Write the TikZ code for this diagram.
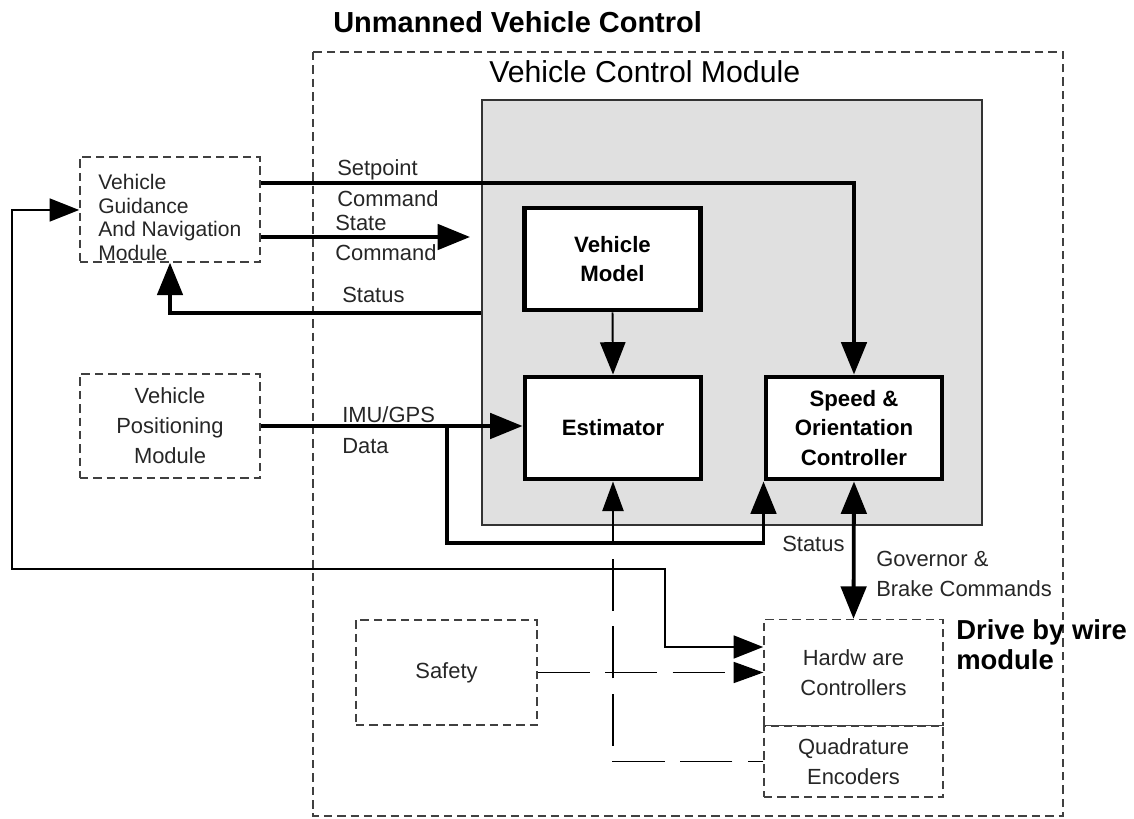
\documentclass[tikz,border=0pt]{standalone}
\usepackage{fontspec}
\setmainfont{Liberation Sans}
\usetikzlibrary{arrows.meta}
\begin{document}
\begin{tikzpicture}[x=0.025cm,y=-0.025cm,>={Triangle[length=23pt,width=18pt]}]
\tikzstyle{every node}+=[inner sep=0pt,text=black!85]
\tikzstyle{lbl}=[font=\fontsize{15.6}{21.8}\selectfont,align=left,anchor=west]
\tikzstyle{dbox}=[draw=black!75,line width=1pt,dash pattern=on 6pt off 3.5pt,align=center,font=\fontsize{15.6}{21.3}\selectfont]
\tikzstyle{bbox}=[draw=black,fill=white,line width=3.5pt,align=center,text=black,font=\bfseries\fontsize{15.8}{21}\selectfont,minimum width=4.4cm,minimum height=2.55cm]
\tikzstyle{thk}=[line width=2.7pt,->]
\tikzstyle{thn}=[line width=1.4pt,->]
\tikzstyle{fbk}=[line width=2.1pt,>={Triangle[length=21pt,width=16pt]}]
\tikzstyle{lng}=[dash pattern=on 37pt off 11pt,>={Triangle[length=21pt,width=15pt]}]
\useasboundingbox (0,0) rectangle (1134,819);
\draw [black!75,line width=1pt,dash pattern=on 6pt off 3.5pt] (313,52) rectangle (1063,816);
\node (ttl) [anchor=west,text=black,font=\bfseries\fontsize{20.6}{24}\selectfont] at (333,22) {Unmanned Vehicle Control};
\node (vcmt) [anchor=west,text=black,font=\fontsize{21.5}{26}\selectfont] at (489,72) {Vehicle Control Module};
\node (vcm) [draw=black!80,fill=black!12,line width=1.4pt,minimum width=12.5cm,minimum height=10.625cm] at (732,312.5) {};
\node (guid) [dbox,minimum width=4.5cm,minimum height=2.625cm] at (170,209.5) {};
\node (guidt) [anchor=west,align=left,font=\fontsize{15}{17}\selectfont] at (98,217.5) {Vehicle\\Guidance\\And Navigation\\Module};
\node (pos) [dbox,minimum width=4.5cm,minimum height=2.6cm] at (170,426) {Vehicle\\Positioning\\Module};
\node (saf) [dbox,minimum width=4.525cm,minimum height=2.625cm] at (446.5,672.5) {Safety};
\node (hw) [dbox,minimum width=4.475cm,minimum height=2.65cm] at (853.5,672.5) {Hardw are\\Controllers};
\node (enc) [dbox,minimum width=4.475cm,minimum height=1.775cm] at (853.5,761.5) {Quadrature\\Encoders};
\node (mdl) [bbox] at (612.5,259) {Vehicle\\Model};
\node (est) [bbox] at (613,428) {Estimator};
\node (spd) [bbox] at (854,428) {Speed \&\\Orientation\\Controller};
\coordinate (stin) at (470,237);
\draw [thk] (guid.east |- 0,183) -| (spd.north);
\draw [thk] (guid.east |- 0,237) -- (stin);
\draw [thk] (vcm.west |- 0,313) -| (guid.south);
\draw [thn] (mdl.south) -- (est.north);
\draw [thk] (pos.east) -- (pos.east -| est.west);
\draw [thk] (pos.east -| 447,0) -- (447,543) -| (spd.south west);
\draw [thk,<->] (spd.south) -- (hw.north);
\draw [fbk,<->] (guid.west |- 0,210) -- (12,210) -- (12,569) -- (665,569) |- (hw.west |- 0,647);
\draw [lng,line width=0.8pt,->] (saf.east) -- (hw.west);
\draw [lng,dash phase=26pt,line width=1.4pt,->] (enc.west) -| (est.south);
\node (spt) [lbl] at (337,183) {Setpoint\\Command};
\node (stc) [lbl] at (335,238) {State\\Command};
\node (sts) [lbl] at (342,295) {Status};
\node (imu) [lbl] at (342,430) {IMU/GPS\\Data};
\node (sts2) [lbl] at (782,544) {Status};
\node (gov) [lbl] at (876,574) {Governor \&\\Brake Commands};
\node (dbw) [lbl,text=black,font=\bfseries\fontsize{19.5}{21.3}\selectfont] at (956,645) {Drive by wire\\module};
\end{tikzpicture}
\end{document}
